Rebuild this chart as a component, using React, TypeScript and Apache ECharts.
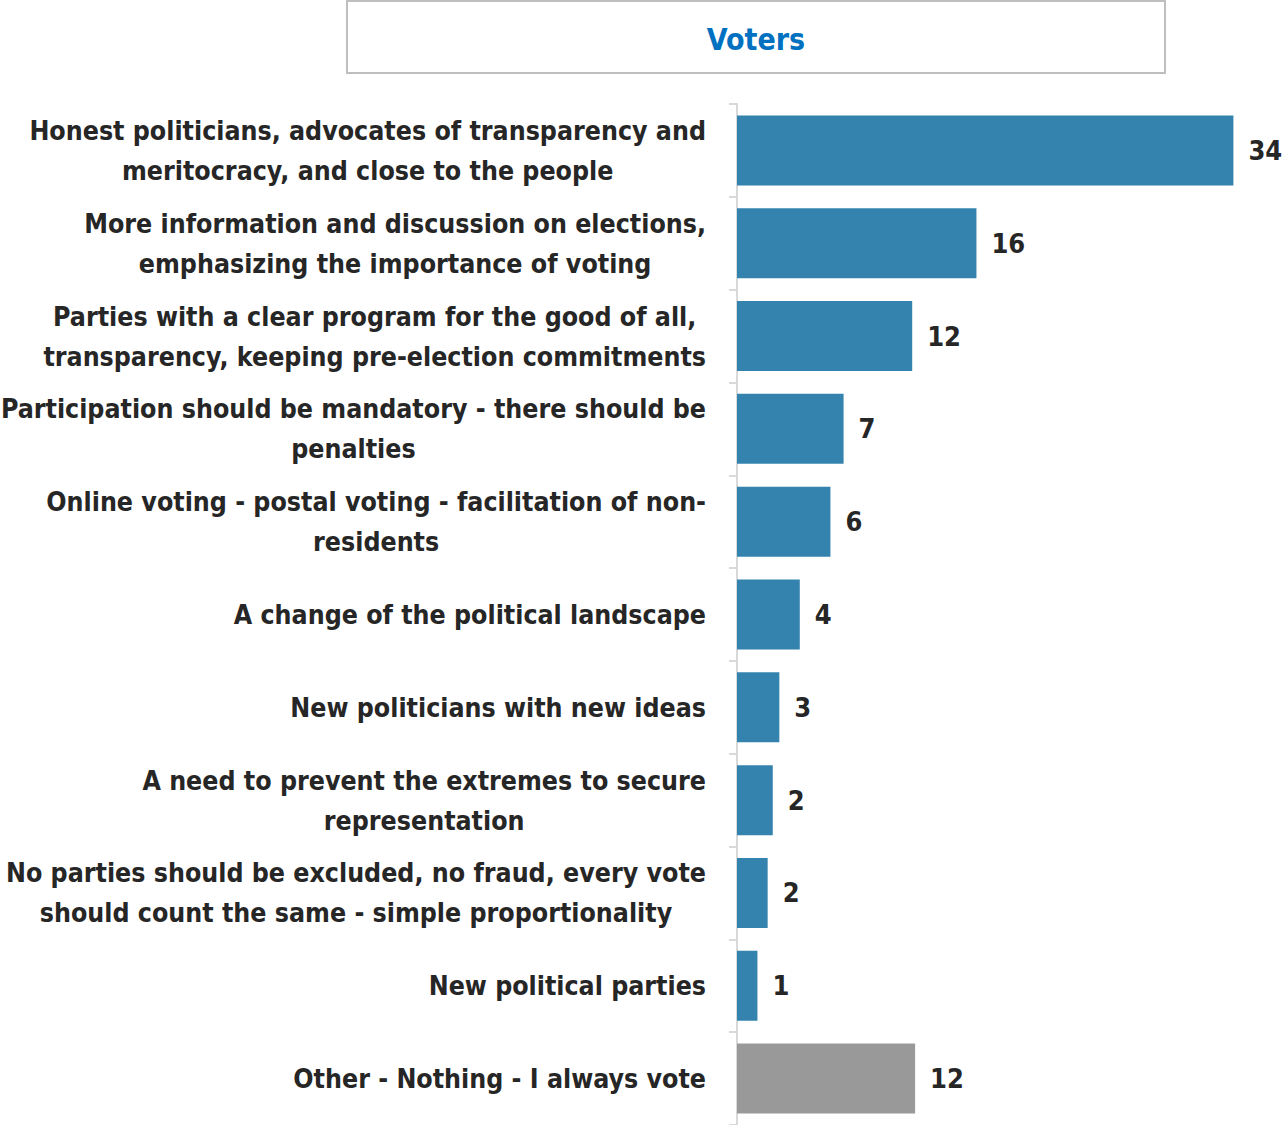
import React, { useEffect, useRef } from "react";
import * as echarts from "echarts";

const TITLE = "Voters";
const categories: string[] = [
  "Honest politicians, advocates of transparency and\nmeritocracy, and close to the people",
  "More information and discussion on elections,\nemphasizing the importance of voting",
  "Parties with a clear program for the good of all,\ntransparency, keeping pre-election commitments",
  "Participation should be mandatory - there should be\npenalties",
  "Online voting - postal voting - facilitation of non-\nresidents",
  "A change of the political landscape",
  "New politicians with new ideas",
  "A need to prevent the extremes to secure\nrepresentation",
  "No parties should be excluded, no fraud, every vote\nshould count the same - simple proportionality",
  "New political parties",
  "Other - Nothing - I always vote",
];
const values: number[] = [34.0, 16.4, 12.0, 7.3, 6.4, 4.3, 2.9, 2.45, 2.1, 1.4, 12.2];
const otherCategory = "Other - Nothing - I always vote";

const FONT = "'Liberation Sans Narrow', 'Arial Narrow', 'DejaVu Sans Condensed', sans-serif";
const BLUE = "#3383AE";
const GREY = "#999999";
const TEXT = "#262626";

export default function App() {
  const ref = useRef<HTMLDivElement>(null);
  useEffect(() => {
    if (!ref.current) return;
    const chart = echarts.init(ref.current, undefined, { renderer: "svg" });
    chart.setOption({
      animation: false,
      backgroundColor: "#ffffff",
      graphic: [
        {
          type: "rect",
          shape: { x: 347, y: 1, width: 818, height: 72 },
          style: { fill: "#ffffff", stroke: "#bfbfbf", lineWidth: 2 },
          z: 10,
        },
        {
          type: "text",
          x: 756,
          y: 39,
          style: {
            text: TITLE,
            fill: "#0070C0",
            font: `bold 30px ${FONT}`,
            align: "center",
            verticalAlign: "middle",
          },
          z: 11,
        },
      ],
      grid: {
        left: 737,
        right: 35,
        top: 104,
        bottom: 0,
        containLabel: false,
        outerBoundsMode: "none",
      },
      xAxis: {
        type: "value",
        min: 0,
        max: 35,
        show: false,
      },
      yAxis: {
        type: "category",
        inverse: true,
        data: categories,
        axisLine: { show: true, lineStyle: { color: "#d9d9d9", width: 2 } },
        axisTick: { show: true, length: 8, lineStyle: { color: "#d9d9d9", width: 2 } },
        axisLabel: {
          margin: 31,
          align: "right",
          formatter: (v: string) =>
            v
              .split("\n")
              .map((l) => `{c|${l}}`)
              .join("\n"),
          rich: {
            c: {
              align: "center",
              fontFamily: FONT,
              fontWeight: "bold",
              fontSize: 26.5,
              lineHeight: 40,
              color: TEXT,
            },
          },
        },
      },
      series: [
        {
          type: "bar",
          barWidth: 70,
          data: values.map((v, i) => ({
            value: v,
            itemStyle: { color: categories[i] === otherCategory ? GREY : BLUE },
          })),
          label: {
            show: true,
            position: "right",
            distance: 15,
            formatter: (p: any) => String(Math.round(p.value)),
            fontFamily: FONT,
            fontWeight: "bold",
            fontSize: 27,
            color: TEXT,
          },
        },
      ],
    });
    return () => chart.dispose();
  }, []);
  return (
    <div
      ref={ref}
      style={{ position: "absolute", left: 0, top: 0, width: 1283, height: 1125 }}
    />
  );
}
